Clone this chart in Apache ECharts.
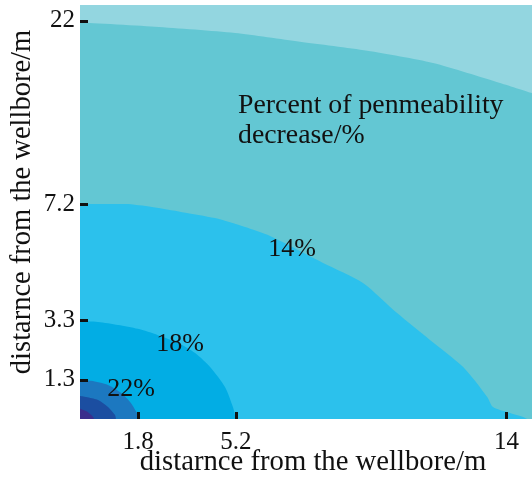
<!DOCTYPE html>
<html>
<head>
<meta charset="utf-8">
<script src="https://cdn.jsdelivr.net/npm/echarts@6/dist/echarts.min.js"></script>
<style>
html,body{margin:0;padding:0;background:#fff;}
#c{width:532px;height:483px;}
</style>
</head>
<body>
<div id="c"></div>
<script>
// Axis ticks (position on axis, printed label)
var xTickPos = [1.91, 5.12, 14.0];
var xTickLabels = ['1.8', '5.2', '14'];
var yTickPos = [1.31, 3.3, 7.2, 13.34];
var yTickLabels = ['1.3', '3.3', '7.2', '22'];

// Contour boundaries: [x, y] in axis units
var bound10 = [[0,13.28],[2.46,13.14],[5.09,12.93],[7.22,12.64],[9.43,12.34],[11.59,11.93],[13.79,11.26],[14.84,10.92]];
var bound14 = [[0,7.2],[1.48,7.2],[2.36,7.1],[3.35,6.93],[4.43,6.73],[5.42,6.43],[6.24,6.13],[7.98,5.23],[9.29,4.56],[10.41,3.55],[11.49,2.65],[12.58,1.74],[13.37,0.74],[13.56,0.4],[14.12,0.2],[14.55,0.07],[14.68,0]];
var bound18 = [[0,3.28],[0.59,3.25],[1.25,3.15],[1.9,3.02],[2.56,2.81],[3.22,2.55],[3.78,2.21],[4.3,1.71],[4.76,1.07],[5.02,0.4],[5.12,0]];
var bound22 = [[0,1.31],[0.36,1.28],[0.92,1.14],[1.35,0.87],[1.67,0.54],[1.87,0.2],[1.94,0]];
var bound26 = [[0,0.77],[0.59,0.64],[0.92,0.4],[1.15,0.13],[1.18,0]];
var bound30 = [[0,0.34],[0.26,0.23],[0.43,0.07],[0.46,0]];

var levelBounds = [bound10, bound14, bound18, bound22, bound26, bound30];
var levelColors = ['#63c7d3', '#2cc1ec', '#02ade4', '#1c78c0', '#1b4ea1', '#3a2e8c'];
var bgColor = '#93d6e0';

var FONT = "'Liberation Serif','Times New Roman',serif";

function lookup(pos, labels, v) {
  for (var i = 0; i < pos.length; i++) if (Math.abs(pos[i] - v) < 1e-6) return labels[i];
  return '';
}

var series = levelBounds.map(function (b, i) {
  return {
    type: 'line',
    data: b,
    smooth: 0.25,
    symbol: 'none',
    silent: true,
    lineStyle: { width: 0, opacity: 0 },
    areaStyle: { color: levelColors[i], opacity: 1 },
    z: 2 + i
  };
});

var chart = echarts.init(document.getElementById('c'), null, { renderer: 'canvas' });
chart.setOption({
  animation: false,
  backgroundColor: '#ffffff',
  grid: { left: 80, right: 0, top: 5, bottom: 64, show: true, backgroundColor: bgColor, borderWidth: 0 },
  xAxis: {
    type: 'value', min: 0, max: 14.84,
    axisLine: { show: false },
    splitLine: { show: false },
    axisTick: { show: true, inside: true, length: 7, customValues: xTickPos, lineStyle: { color: '#111', width: 3 } },
    axisLabel: { customValues: xTickPos, margin: 11, fontSize: 25, fontFamily: FONT, color: '#111',
      formatter: function (v) { return lookup(xTickPos, xTickLabels, v); } },
    z: 20
  },
  yAxis: {
    type: 'value', min: 0, max: 13.87,
    axisLine: { show: false },
    splitLine: { show: false },
    axisTick: { show: true, inside: true, length: 8, customValues: yTickPos, lineStyle: { color: '#111', width: 3 } },
    axisLabel: { customValues: yTickPos, margin: 5, fontSize: 25, fontFamily: FONT, color: '#111',
      formatter: function (v) { return lookup(yTickPos, yTickLabels, v); } },
    z: 20
  },
  series: series,
  graphic: [
    { type: 'text', z: 100, x: 313, y: 462, style: { text: 'distarnce from the wellbore/m', font: '28.7px ' + FONT, fill: '#111', align: 'center', verticalAlign: 'middle' } },
    { type: 'text', z: 100, x: 23, y: 202, rotation: Math.PI / 2, style: { text: 'distarnce from the wellbore/m', font: '28.5px ' + FONT, fill: '#111', align: 'center', verticalAlign: 'middle' } },
    { type: 'text', z: 100, x: 238, y: 106, style: { text: 'Percent of penmeability', font: '27.8px ' + FONT, fill: '#111', align: 'left', verticalAlign: 'middle' } },
    { type: 'text', z: 100, x: 238, y: 136, style: { text: 'decrease/%', font: '27.8px ' + FONT, fill: '#111', align: 'left', verticalAlign: 'middle' } },
    { type: 'text', z: 100, x: 292, y: 249, style: { text: '14%', font: '26px ' + FONT, fill: '#111', align: 'center', verticalAlign: 'middle' } },
    { type: 'text', z: 100, x: 180, y: 344, style: { text: '18%', font: '26px ' + FONT, fill: '#111', align: 'center', verticalAlign: 'middle' } },
    { type: 'text', z: 100, x: 131, y: 389, style: { text: '22%', font: '26px ' + FONT, fill: '#111', align: 'center', verticalAlign: 'middle' } }
  ]
});
</script>
</body>
</html>
